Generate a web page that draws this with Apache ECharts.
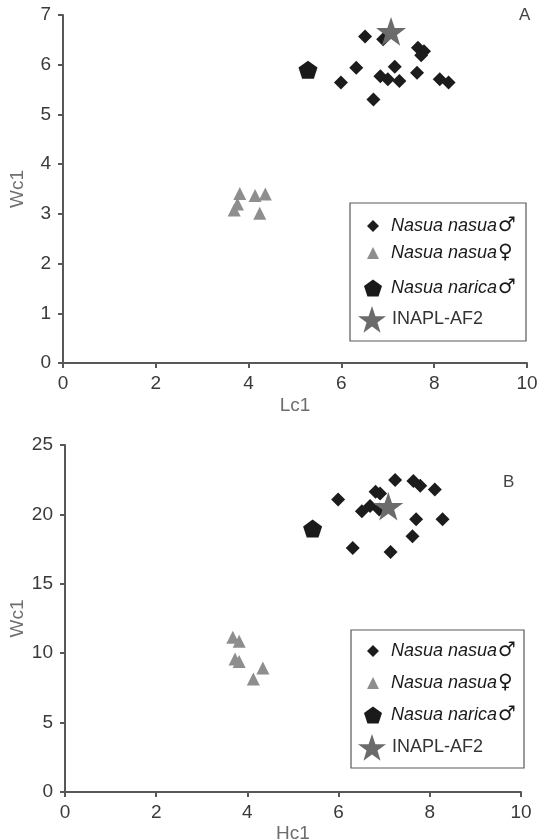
<!DOCTYPE html>
<html>
<head>
<meta charset="utf-8">
<script src="https://cdn.jsdelivr.net/npm/echarts@6/dist/echarts.min.js"></script>
<style>
html,body{margin:0;padding:0;background:#fff;}
#chart{width:541px;height:839px;}
</style>
</head>
<body>
<div id="chart"></div>
<script>
// ---- Series / ticks ----
const seriesNames = ['Nasua nasua♂', 'Nasua nasua♀', 'Nasua narica♂', 'INAPL-AF2'];
const xTicksA = [0, 2, 4, 6, 8, 10];
const yTicksA = [0, 1, 2, 3, 4, 5, 6, 7];
const xTicksB = [0, 2, 4, 6, 8, 10];
const yTicksB = [0, 5, 10, 15, 20, 25];

// ---- Data: panel A (Lc1 vs Wc1) ----
const A_nasuaMale_Lc1 = [6.51, 6.90, 7.65, 7.78, 7.72, 6.32, 7.15, 7.63, 5.99, 6.84, 7.00, 7.25, 8.12, 8.31, 6.69];
const A_nasuaMale_Wc1 = [6.57, 6.51, 6.34, 6.27, 6.19, 5.94, 5.96, 5.84, 5.64, 5.77, 5.71, 5.67, 5.71, 5.64, 5.30];
const A_nasuaFemale_Lc1 = [3.81, 3.76, 3.69, 4.14, 4.36, 4.24];
const A_nasuaFemale_Wc1 = [3.41, 3.20, 3.08, 3.37, 3.40, 3.01];
const A_naricaMale_Lc1 = [5.28];
const A_naricaMale_Wc1 = [5.90];
const A_inapl_Lc1 = [7.07];
const A_inapl_Wc1 = [6.67];

// ---- Data: panel B (Hc1 vs Wc1) ----
const B_nasuaMale_Hc1 = [7.24, 7.64, 7.79, 8.11, 5.99, 6.81, 6.91, 6.69, 6.51, 6.89, 7.70, 8.28, 7.62, 6.31, 7.14];
const B_nasuaMale_Wc1 = [22.47, 22.40, 22.06, 21.80, 21.08, 21.63, 21.50, 20.60, 20.23, 20.35, 19.65, 19.65, 18.42, 17.58, 17.29];
const B_nasuaFemale_Hc1 = [3.68, 3.82, 3.73, 3.82, 4.34, 4.13];
const B_nasuaFemale_Wc1 = [11.15, 10.86, 9.59, 9.41, 8.94, 8.15];
const B_naricaMale_Hc1 = [5.43];
const B_naricaMale_Wc1 = [18.98];
const B_inapl_Hc1 = [7.09];
const B_inapl_Wc1 = [20.59];

function zip(xs, ys) { return xs.map((x, i) => [x, ys[i]]); }

const STAR = 'path://M50,0 L61.8,35.3 L98.1,35.3 L68.8,57.1 L79.4,91.9 L50,70.5 L20.6,91.9 L31.2,57.1 L1.9,35.3 L38.2,35.3 Z';
const PENT = 'path://M50,0 L97.6,34.5 L79.4,90.5 L20.6,90.5 L2.4,34.5 Z';

const styles = [
  { symbol: 'diamond', size: 14, color: '#1c1c1c', legSize: 12 },
  { symbol: 'triangle', size: 13, color: '#8e8e8e', legSize: 12 },
  { symbol: PENT, size: 19, color: '#1a1a1a', legSize: 18 },
  { symbol: STAR, size: 30, color: '#6b6b6b', legSize: 28 }
];

const fontFam = '"Liberation Sans", Arial, sans-serif';

function makeAxes(idx, ticksX, ticksY, xName, xNameGap, yNameGap) {
  const axisLine = { show: true, lineStyle: { color: '#585858', width: 2 } };
  const axisTick = { show: true, length: 5, lineStyle: { color: '#585858', width: 2 } };
  const x = {
    type: 'value', gridIndex: idx, min: ticksX[0], max: ticksX[ticksX.length - 1],
    interval: ticksX[1] - ticksX[0],
    name: xName, nameLocation: 'middle', nameGap: xNameGap, nameMoveOverlap: false,
    nameTextStyle: { color: '#6e6e6e', fontSize: 19, fontFamily: fontFam },
    axisLine, axisTick, splitLine: { show: false },
    axisLabel: { color: '#3a3a3a', fontSize: 19, fontFamily: fontFam, margin: 11 }
  };
  const y = {
    type: 'value', gridIndex: idx, min: ticksY[0], max: ticksY[ticksY.length - 1],
    interval: ticksY[1] - ticksY[0],
    name: 'Wc1', nameLocation: 'middle', nameGap: yNameGap, nameMoveOverlap: false,
    nameTextStyle: { color: '#6e6e6e', fontSize: 19, fontFamily: fontFam },
    axisLine, axisTick, splitLine: { show: false },
    axisLabel: { color: '#3a3a3a', fontSize: 19, fontFamily: fontFam, margin: 12 }
  };
  return [x, y];
}

const [xA, yA] = makeAxes(0, xTicksA, yTicksA, 'Lc1', 33, 36);
const [xB, yB] = makeAxes(1, xTicksB, yTicksB, 'Hc1', 32, 38);

const dataA = [
  zip(A_nasuaMale_Lc1, A_nasuaMale_Wc1),
  zip(A_nasuaFemale_Lc1, A_nasuaFemale_Wc1),
  zip(A_naricaMale_Lc1, A_naricaMale_Wc1),
  zip(A_inapl_Lc1, A_inapl_Wc1)
];
const dataB = [
  zip(B_nasuaMale_Hc1, B_nasuaMale_Wc1),
  zip(B_nasuaFemale_Hc1, B_nasuaFemale_Wc1),
  zip(B_naricaMale_Hc1, B_naricaMale_Wc1),
  zip(B_inapl_Hc1, B_inapl_Wc1)
];

const series = [];
[dataA, dataB].forEach((set, gi) => {
  set.forEach((d, si) => {
    series.push({
      type: 'scatter', name: seriesNames[si], xAxisIndex: gi, yAxisIndex: gi,
      data: d, symbol: styles[si].symbol, symbolSize: styles[si].size, symbolKeepAspect: true,
      itemStyle: { color: styles[si].color, opacity: 1 },
      emphasis: { disabled: true }, z: si === 3 ? 5 : 2
    });
  });
});

const textStart = 391;
const legendCentersA = [[373, 222], [373, 249], [373, 287], [372, 320]];
const legendCentersB = [[373, 647], [373, 679], [373, 714], [372, 748]];

const legends = [];
[legendCentersA, legendCentersB].forEach((centers) => {
  centers.forEach((c, si) => {
    const s = styles[si].legSize;
    const gap = Math.max(1, textStart - (c[0] + s / 2 + 5));
    legends.push({
      show: true, orient: 'horizontal', left: c[0] - s / 2, top: c[1] - s / 2,
      padding: 0, itemWidth: s, itemHeight: s, selectedMode: false,
      data: [{ name: seriesNames[si], icon: styles[si].symbol, itemStyle: { color: styles[si].color } }],
      formatter: function (name) {
        if (name.indexOf('INAPL') === 0) return '{g|}{n|' + name + '}';
        return '{g|}{i|' + name.slice(0, -1) + '}{s|' + name.slice(-1) + '}';
      },
      textStyle: {
        fontSize: 18, fontFamily: fontFam, color: '#1a1a1a',
        rich: {
          g: { width: gap },
          i: { fontSize: 18, fontStyle: 'italic', fontFamily: fontFam, color: '#1a1a1a' },
          s: { fontSize: 20, fontWeight: 'bold', fontFamily: '"DejaVu Sans", sans-serif', color: '#1a1a1a', padding: [0, 0, 0, 1] },
          n: { fontSize: 18, fontFamily: fontFam, color: '#333333' }
        }
      }
    });
  });
});

const option = {
  backgroundColor: '#ffffff',
  animation: false,
  title: [
    { text: 'A', left: 514, top: 2, textStyle: { fontSize: 17, fontWeight: 'normal', color: '#444', fontFamily: fontFam } },
    { text: 'B', left: 498, top: 469, textStyle: { fontSize: 17, fontWeight: 'normal', color: '#444', fontFamily: fontFam } }
  ],
  grid: [
    { left: 63, right: 14, top: 15, bottom: 476, containLabel: false, outerBoundsMode: 'none' },
    { left: 65, right: 20, top: 445, bottom: 47, containLabel: false, outerBoundsMode: 'none' }
  ],
  xAxis: [xA, xB],
  yAxis: [yA, yB],
  legend: legends,
  graphic: [
    { type: 'rect', shape: { x: 350, y: 203, width: 176, height: 138 }, style: { fill: 'none', stroke: '#585858', lineWidth: 1.2 }, z: 1 },
    { type: 'rect', shape: { x: 351, y: 630, width: 173, height: 138 }, style: { fill: 'none', stroke: '#585858', lineWidth: 1.2 }, z: 1 }
  ],
  series
};

const chart = echarts.init(document.getElementById('chart'), null, { renderer: 'canvas' });
chart.setOption(option);
</script>
</body>
</html>
